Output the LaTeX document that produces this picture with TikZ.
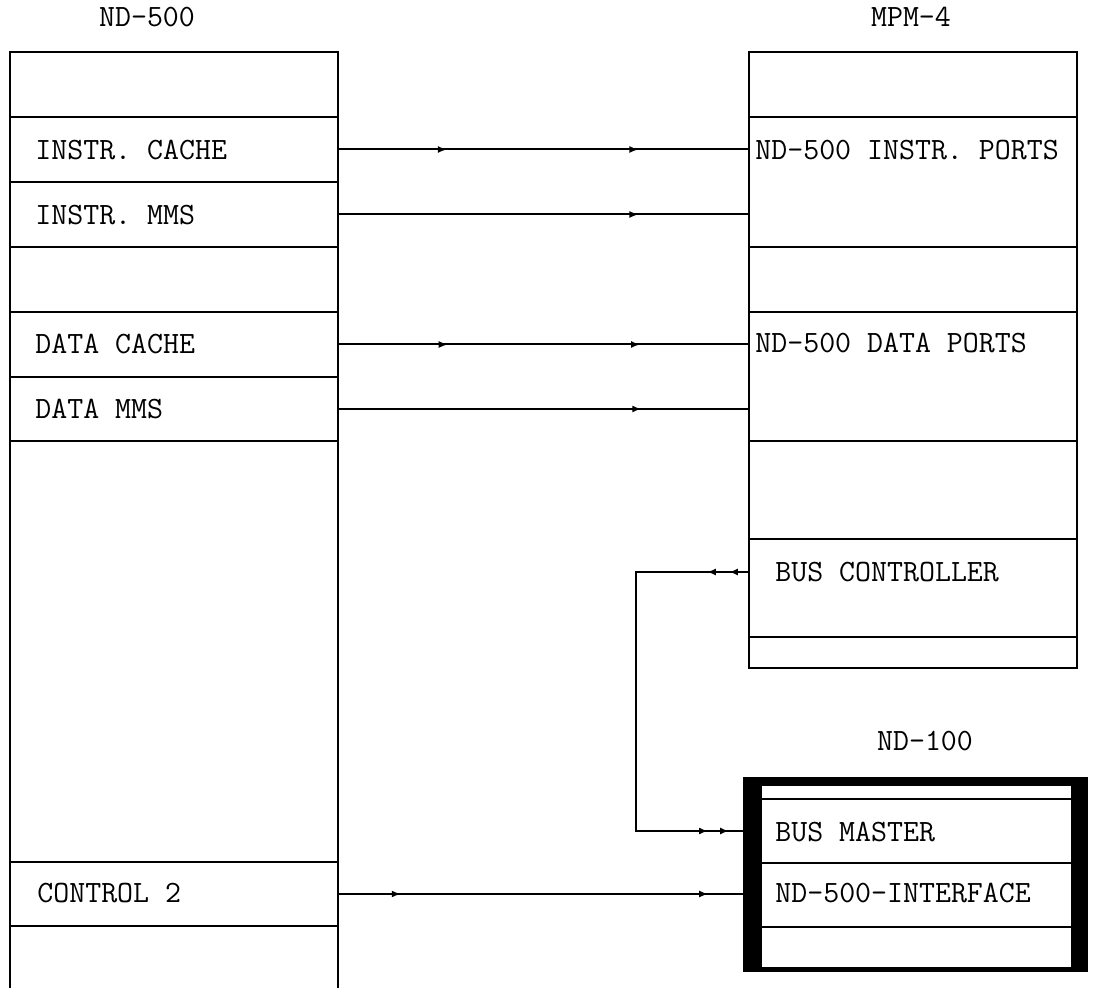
\documentclass[tikz,border=0pt]{standalone}
\usepackage{tikz}
\usetikzlibrary{arrows.meta, positioning, calc, decorations.markings}

\newcommand{\ndfont}{\fontsize{15.5pt}{18pt}\selectfont\ttfamily}

\tikzset{
  cell/.style={draw, line width=0.8pt, anchor=north west, inner sep=0pt, outer sep=0pt},
  lcol/.style={cell, minimum width=164pt},
  rcol/.style={cell, minimum width=164pt},
  ncol/.style={cell, fill=white, minimum width=155.5pt},
  txt/.style={anchor=west, inner sep=0pt, font=\ndfont},
  title/.style={inner sep=0pt, font=\ndfont},
  link/.style={line width=1pt},
  arrowat/.style={postaction={decorate, decoration={markings,
      mark=at position #1 with {\arrow{Latex[length=4.5pt,width=3.5pt]}}}}},
}

\begin{document}
\begin{tikzpicture}[x=0.5pt, y=-0.5pt]
\useasboundingbox (0,0) rectangle (1098,988);

% ND-500 column
\node[title] (nd500) at (147,17) {ND-500};
\node[lcol, minimum height=32.5pt] (l0) at (10,52) {};
\node[lcol, minimum height=32.5pt] (icache) at (10,117) {};
\node[lcol, minimum height=32.5pt] (imms) at (10,182) {};
\node[lcol, minimum height=32.5pt] (l3) at (10,247) {};
\node[lcol, minimum height=32.5pt] (dcache) at (10,312) {};
\node[lcol, minimum height=32pt] (dmms) at (10,377) {};
\node[lcol, minimum height=210.5pt] (l6) at (10,441) {};
\node[lcol, minimum height=32pt] (ctrl) at (10,862) {};
\node[lcol, minimum height=36pt] (l8) at (10,926) {};

\node[txt] at (35,150) {INSTR. CACHE};
\node[txt] at (35,215) {INSTR. MMS};
\node[txt] at (35,344) {DATA CACHE};
\node[txt] at (35,409) {DATA MMS};
\node[txt] at (37,893) {CONTROL 2};

% MPM-4 column
\node[title] (mpm) at (911,17) {MPM-4};
\node[rcol, minimum height=32.5pt] (r0) at (749,52) {};
\node[rcol, minimum height=65pt] (iports) at (749,117) {};
\node[rcol, minimum height=32.5pt] (r2) at (749,247) {};
\node[rcol, minimum height=64.5pt] (dports) at (749,312) {};
\node[rcol, minimum height=49pt] (r4) at (749,441) {};
\node[rcol, minimum height=49pt] (busctl) at (749,539) {};
\node[rcol, minimum height=15.5pt] (r6) at (749,637) {};

\node[txt] at (755,150) {ND-500 INSTR. PORTS};
\node[txt] at (755,343) {ND-500 DATA PORTS};
\node[txt] (bctext) at (775,572) {BUS CONTROLLER};

% ND-100 with heavy frame
\node[title] (nd100t) at (925,741) {ND-100};
\node[anchor=north west, fill=black, inner sep=0pt, minimum width=172.5pt, minimum height=97.5pt] (nd100) at (743,777) {};
\fill[white] (761,785) rectangle (1072,968);
\node[ncol, minimum height=7pt] (n0) at (761,785) {};
\node[ncol, minimum height=32pt] (bmaster) at (761,799) {};
\node[ncol, minimum height=32pt] (iface) at (761,863) {};
\node[ncol, minimum height=20.5pt] (n3) at (761,927) {};

\node[txt] at (775,832) {BUS MASTER};
\node[txt] at (775,893) {ND-500-INTERFACE};

% connections
\draw[link, arrowat=0.265, arrowat=0.731] (icache.east) -- (icache.east -| iports.west);
\draw[link, arrowat=0.731] (imms.east) -- (imms.east -| iports.west);
\draw[link, arrowat=0.267, arrowat=0.735] (dcache.east) -- (dcache.east -| dports.west);
\draw[link, arrowat=0.738] (dmms.east) -- (dmms.east -| dports.west);
\draw[link, arrowat=0.155, arrowat=0.914] (ctrl.east) -- (ctrl.east -| nd100.west);

\coordinate (busturn) at (636,572);
\draw[link, arrowat=0.042, arrowat=0.088, arrowat=0.927, arrowat=0.971]
  (busctl.west |- bctext.west) -- (busturn) |- (bmaster.west -| nd100.west);

\end{tikzpicture}
\end{document}
